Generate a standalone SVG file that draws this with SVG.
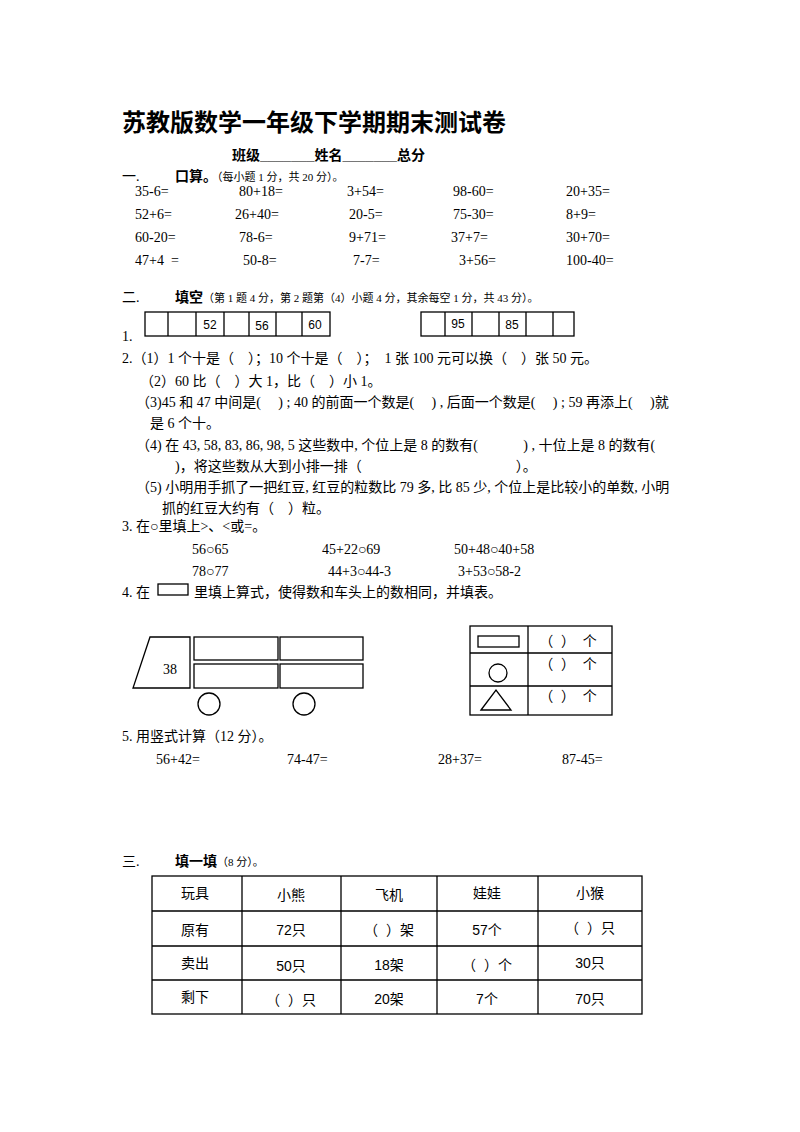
<svg xmlns="http://www.w3.org/2000/svg" width="800" height="1132" viewBox="0 0 800 1132">
<style>
text{font-family:"Liberation Serif","Noto Sans CJK SC",serif;fill:#000;font-size:14px;white-space:pre}
.t{font-size:24px;font-weight:bold;font-family:"Liberation Sans","Noto Sans CJK SC",sans-serif}
.b{font-weight:bold;font-family:"Liberation Sans","Noto Sans CJK SC",sans-serif}
.s{font-size:11px}
.q{font-size:14px}
.tb{font-family:"Liberation Sans","Noto Sans CJK SC",sans-serif;font-size:14px;text-anchor:middle}
.n{font-family:"Liberation Sans",sans-serif;font-size:12px;text-anchor:middle}
.ln{fill:none;stroke:#000;stroke-width:1.3}
</style>
<rect width="800" height="1132" fill="#fff"/>
<text class="t" x="122" y="131">苏教版数学一年级下学期期末测试卷</text>
<text class="b" x="232" y="160" font-size="15">班级_______姓名_______总分</text>
<text x="122" y="181">一.</text>
<text x="175" y="181"><tspan class="b">口算。</tspan><tspan class="s">（每小题 1 分，共 20 分）。</tspan></text>
<g>
<text x="135" y="196">35-6=</text><text x="239" y="196">80+18=</text><text x="347" y="196">3+54=</text><text x="453" y="196">98-60=</text><text x="566" y="196">20+35=</text>
<text x="135" y="219">52+6=</text><text x="235" y="219">26+40=</text><text x="349" y="219">20-5=</text><text x="453" y="219">75-30=</text><text x="566" y="219">8+9=</text>
<text x="135" y="242">60-20=</text><text x="239" y="242">78-6=</text><text x="349" y="242">9+71=</text><text x="451" y="242">37+7=</text><text x="566" y="242">30+70=</text>
<text x="135" y="265">47+4  =</text><text x="243" y="265">50-8=</text><text x="353" y="265">7-7=</text><text x="459" y="265">3+56=</text><text x="566" y="265">100-40=</text>
</g>
<text x="122" y="302">二.</text>
<text x="175" y="302"><tspan class="b">填空</tspan><tspan class="s">（第 1 题 4 分，第 2 题第（4）小题 4 分，其余每空 1 分，共 43 分）。</tspan></text>
<text x="122" y="341">1.</text>
<g id="box1">
<rect class="ln" x="145" y="312" width="185" height="24"/>
<path class="ln" d="M168 312V336M196 312V336M224 312V336M249 312V336M276 312V336M302 312V336"/>
<text class="n" x="210" y="329">52</text><text class="n" x="262" y="330">56</text><text class="n" x="315" y="329">60</text>
</g>
<g id="box2">
<rect class="ln" x="421" y="312" width="153" height="24"/>
<path class="ln" d="M445 312V336M472 312V336M499 312V336M526 312V336M553 312V336"/>
<text class="n" x="458" y="328">95</text><text class="n" x="512" y="329">85</text>
</g>
<g>
<text class="q" x="122" y="363">2.（1）1 个十是（    ）；10 个十是（    ）；  1 张 100 元可以换（    ）张 50 元。</text>
<text class="q" x="140" y="386">（2）60 比（    ）大 1，比（    ）小 1。</text>
<text class="q" x="136" y="407">（3)45 和 47 中间是(     ) ; 40 的前面一个数是(     ) , 后面一个数是(     ) ; 59 再添上(     )就</text>
<text class="q" x="150" y="428">是 6 个十。</text>
<text class="q" x="136" y="450">（4) 在 43, 58, 83, 86, 98, 5 这些数中, 个位上是 8 的数有(             ) , 十位上是 8 的数有(</text>
<text class="q" x="175" y="471">)，将这些数从大到小排一排（                                            ）。</text>
<text class="q" x="136" y="492">（5) 小明用手抓了一把红豆, 红豆的粒数比 79 多, 比 85 少, 个位上是比较小的单数, 小明</text>
<text class="q" x="162" y="513">抓的红豆大约有（    ）粒。</text>
</g>
<text class="q" x="122" y="531">3. 在○里填上&gt;、&lt;或=。</text>
<text class="q" x="192" y="554">56○65</text><text class="q" x="322" y="554">45+22○69</text><text class="q" x="454" y="554">50+48○40+58</text>
<text class="q" x="192" y="576">78○77</text><text class="q" x="328" y="576">44+3○44-3</text><text class="q" x="458" y="576">3+53○58-2</text>
<text class="q" x="122" y="597">4. 在</text>
<rect class="ln" x="158" y="584" width="30" height="11"/>
<text class="q" x="194" y="597">里填上算式，使得数和车头上的数相同，并填表。</text>
<g id="train">
<path class="ln" d="M150 637H190V688H133Z"/>
<text x="170" y="674" font-size="22" text-anchor="middle">38</text>
<rect class="ln" x="194" y="637" width="84" height="23"/>
<rect class="ln" x="194" y="664" width="84" height="24"/>
<rect class="ln" x="280" y="637" width="83" height="23"/>
<rect class="ln" x="280" y="664" width="83" height="24"/>
<circle class="ln" cx="209" cy="704" r="11"/>
<circle class="ln" cx="304" cy="704" r="11"/>
</g>
<g id="shapes">
<rect class="ln" x="470" y="626" width="142" height="89"/>
<path class="ln" d="M470 653H612M470 686H612M528 626V715"/>
<rect class="ln" x="478" y="636" width="41" height="11"/>
<circle class="ln" cx="498" cy="673" r="9"/>
<path class="ln" d="M481 710L496 690L511 710Z"/>
<text class="tb" x="568" y="646">（  ）  个</text>
<text class="tb" x="568" y="669">（  ）  个</text>
<text class="tb" x="568" y="701">（  ）  个</text>
</g>
<text class="q" x="122" y="741">5. 用竖式计算（12 分）。</text>
<text x="156" y="764">56+42=</text><text x="287" y="764">74-47=</text><text x="438" y="764">28+37=</text><text x="562" y="764">87-45=</text>
<text x="122" y="866">三.</text>
<text x="175" y="866"><tspan class="b">填一填</tspan><tspan class="s">（8 分）。</tspan></text>
<g id="table">
<rect class="ln" x="152" y="876" width="490" height="138"/>
<path class="ln" d="M152 911H642M152 946H642M152 980H642M242 876V1014M341 876V1014M437 876V1014M538 876V1014"/>
<text class="tb" x="195" y="898">玩具</text><text class="tb" x="291" y="900">小熊</text><text class="tb" x="389" y="900">飞机</text><text class="tb" x="487" y="898">娃娃</text><text class="tb" x="590" y="898">小猴</text>
<text class="tb" x="195" y="935">原有</text><text class="tb" x="291" y="935">72只</text><text class="tb" x="389" y="935">（  ）架</text><text class="tb" x="487" y="935">57个</text><text class="tb" x="590" y="933">（  ）只</text>
<text class="tb" x="195" y="968">卖出</text><text class="tb" x="291" y="971">50只</text><text class="tb" x="389" y="970">18架</text><text class="tb" x="487" y="970">（  ）个</text><text class="tb" x="590" y="968">30只</text>
<text class="tb" x="195" y="1002">剩下</text><text class="tb" x="291" y="1005">（  ）只</text><text class="tb" x="389" y="1004">20架</text><text class="tb" x="487" y="1004">7个</text><text class="tb" x="590" y="1004">70只</text>
</g>
</svg>
